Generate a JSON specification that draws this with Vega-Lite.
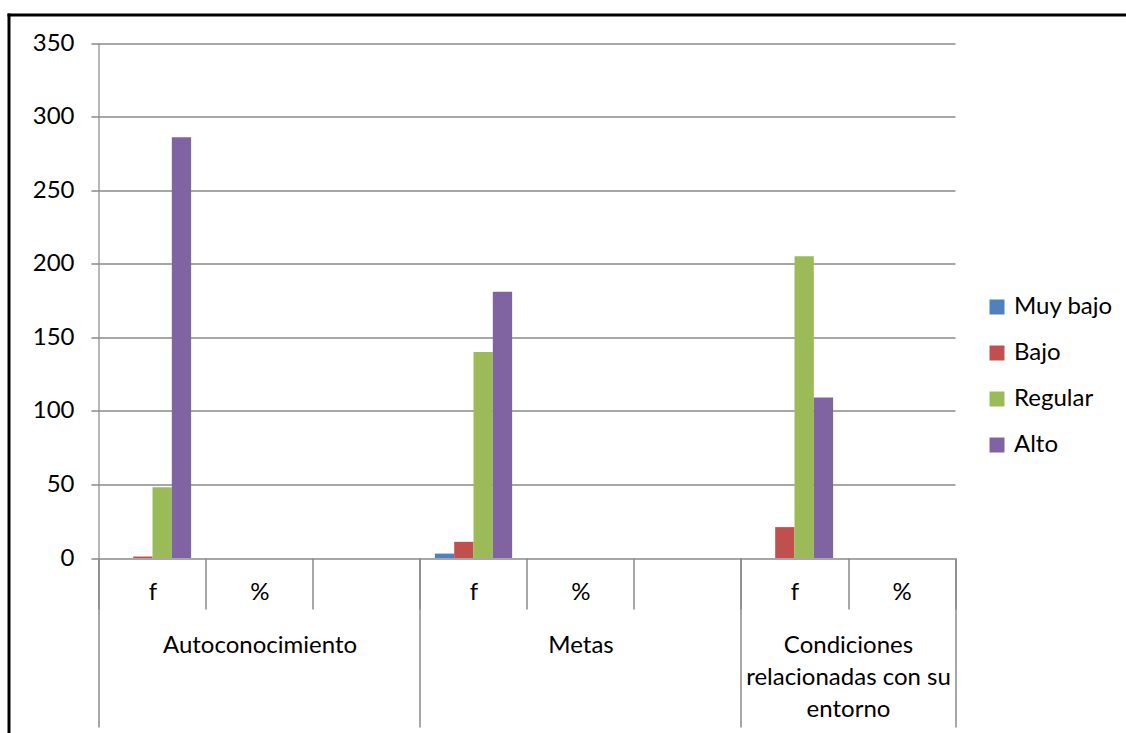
{
  "$schema": "https://vega.github.io/schema/vega-lite/v6.json",
  "width": 1117.5,
  "height": 718.5,
  "autosize": {"type": "none"},
  "padding": {"left": 8.5, "top": 14.5, "right": 0, "bottom": 0},
  "background": "white",
  "config": {
    "view": {"stroke": null},
    "font": "Lato",
    "axis": {"labelFont": "Lato", "labelFontSize": 24, "labelColor": "black", "title": null, "labelLimit": 0},
    "legend": {"labelFont": "Lato", "labelFontSize": 24, "labelColor": "black", "labelLimit": 0}
  },
  "data": {
    "values": [
      {"slot": "A|f", "nivel": "Muy bajo", "valor": 0},
      {"slot": "A|f", "nivel": "Bajo", "valor": 1},
      {"slot": "A|f", "nivel": "Regular", "valor": 48},
      {"slot": "A|f", "nivel": "Alto", "valor": 286},
      {"slot": "M|f", "nivel": "Muy bajo", "valor": 3},
      {"slot": "M|f", "nivel": "Bajo", "valor": 11},
      {"slot": "M|f", "nivel": "Regular", "valor": 140},
      {"slot": "M|f", "nivel": "Alto", "valor": 181},
      {"slot": "C|f", "nivel": "Muy bajo", "valor": 0},
      {"slot": "C|f", "nivel": "Bajo", "valor": 21},
      {"slot": "C|f", "nivel": "Regular", "valor": 205},
      {"slot": "C|f", "nivel": "Alto", "valor": 109}
    ]
  },
  "layer": [
    {
      "mark": {"type": "bar"},
      "encoding": {
        "x": {
          "field": "slot",
          "type": "nominal",
          "sort": null,
          "scale": {"domain": ["A|f", "A|%", "A|", "M|f", "M|%", "M|", "C|f", "C|%", "_"], "paddingInner": 0, "paddingOuter": 0.72196, "align": 0.58576, "round": false},
          "axis": {
            "orient": "bottom",
            "offset": -175,
            "tickBand": "extent",
            "tickSize": 51,
            "tickColor": "#8a8a8a",
            "tickWidth": 1.5,
            "tickOpacity": {"condition": {"test": "datum.value === '_'", "value": 0}, "value": 1},
            "domain": false,
            "labelAngle": 0,
            "labelAlign": "center",
            "labelBaseline": "middle",
            "labelPadding": -17,
            "labelExpr": "datum.value === '_' ? '' : split(datum.value, '|')[1]"
          }
        },
        "xOffset": {
          "field": "nivel",
          "type": "nominal",
          "sort": ["Muy bajo", "Bajo", "Regular", "Alto"],
          "scale": {"domain": ["Muy bajo", "Bajo", "Regular", "Alto"], "paddingInner": 0, "paddingOuter": 0.77}
        },
        "y": {
          "field": "valor",
          "type": "quantitative",
          "scale": {"domain": [-118.93, 369.37], "nice": false, "zero": false},
          "axis": {
            "orient": "left",
            "offset": -90.5,
            "values": [0, 50, 100, 150, 200, 250, 300, 350],
            "grid": false,
            "domain": false,
            "tickColor": "#8a8a8a",
            "tickWidth": 1.5,
            "tickSize": 8,
            "labelPadding": 17
          }
        },
        "color": {
          "field": "nivel",
          "type": "nominal",
          "scale": {"domain": ["Muy bajo", "Bajo", "Regular", "Alto"], "range": ["#4F81BD", "#C0504D", "#9BBB59", "#8064A2"]},
          "legend": {
            "title": null,
            "orient": "none",
            "legendX": 976.5,
            "legendY": 280.5,
            "padding": 0,
            "symbolType": "square",
            "symbolSize": 225,
            "symbolStrokeWidth": 0,
            "labelOffset": 5,
            "rowPadding": 22
          }
        }
      }
    },
    {
      "mark": {"type": "bar", "opacity": 0},
      "encoding": {
        "x": {
          "field": "slot",
          "type": "nominal",
          "sort": null,
          "axis": {
            "orient": "bottom",
            "offset": -175,
            "tickBand": "extent",
            "tickSize": 169,
            "tickColor": "#8a8a8a",
            "tickWidth": 1.5,
            "tickOpacity": {"condition": {"test": "datum.extra || datum.value === 'A|' || datum.value === 'M|' || datum.value === 'C|%'", "value": 1}, "value": 0},
            "domain": false,
            "labelAngle": 0,
            "labelAlign": "center",
            "labelBaseline": "top",
            "labelPadding": -94,
            "labelLineHeight": 32,
            "labelOffset": {"condition": {"test": "datum.value === 'C|f'", "value": 53.5}, "value": 0},
            "labelExpr": "datum.value === 'A|%' ? 'Autoconocimiento' : datum.value === 'M|%' ? 'Metas' : datum.value === 'C|f' ? ['Condiciones', 'relacionadas con su', 'entorno'] : ''"
          }
        },
        "y": {
          "field": "valor",
          "type": "quantitative",
          "axis": {
            "orient": "left",
            "offset": -90.5,
            "values": [0, 50, 100, 150, 200, 250, 300, 350],
            "grid": false,
            "domain": false,
            "labels": false,
            "tickColor": "#8a8a8a",
            "tickWidth": 1.5,
            "tickSize": -856
          }
        }
      }
    },
    {
      "mark": {"type": "bar", "opacity": 0},
      "encoding": {
        "x": {
          "field": "slot",
          "type": "nominal",
          "sort": null,
          "axis": {
            "orient": "bottom",
            "offset": -175,
            "tickBand": "extent",
            "tickSize": -515,
            "tickColor": "#a0a0a0",
            "tickWidth": 1.5,
            "tickOpacity": {"condition": {"test": "datum.extra", "value": 1}, "value": 0},
            "domain": false,
            "labels": false
          }
        },
        "y": {
          "field": "valor",
          "type": "quantitative",
          "axis": {
            "orient": "left",
            "offset": 0,
            "values": [],
            "grid": false,
            "ticks": false,
            "labels": false,
            "domain": true,
            "domainColor": "black",
            "domainWidth": 3,
            "domainCap": "square"
          }
        }
      }
    },
    {
      "mark": {"type": "bar", "opacity": 0},
      "encoding": {
        "x": {
          "field": "slot",
          "type": "nominal",
          "sort": null,
          "axis": {
            "orient": "top",
            "offset": 0,
            "values": [],
            "ticks": false,
            "labels": false,
            "grid": false,
            "domain": true,
            "domainColor": "black",
            "domainWidth": 3,
            "domainCap": "square"
          }
        },
        "y": {"field": "valor", "type": "quantitative", "axis": null}
      }
    }
  ],
  "resolve": {"axis": {"x": "independent", "y": "independent"}}
}
